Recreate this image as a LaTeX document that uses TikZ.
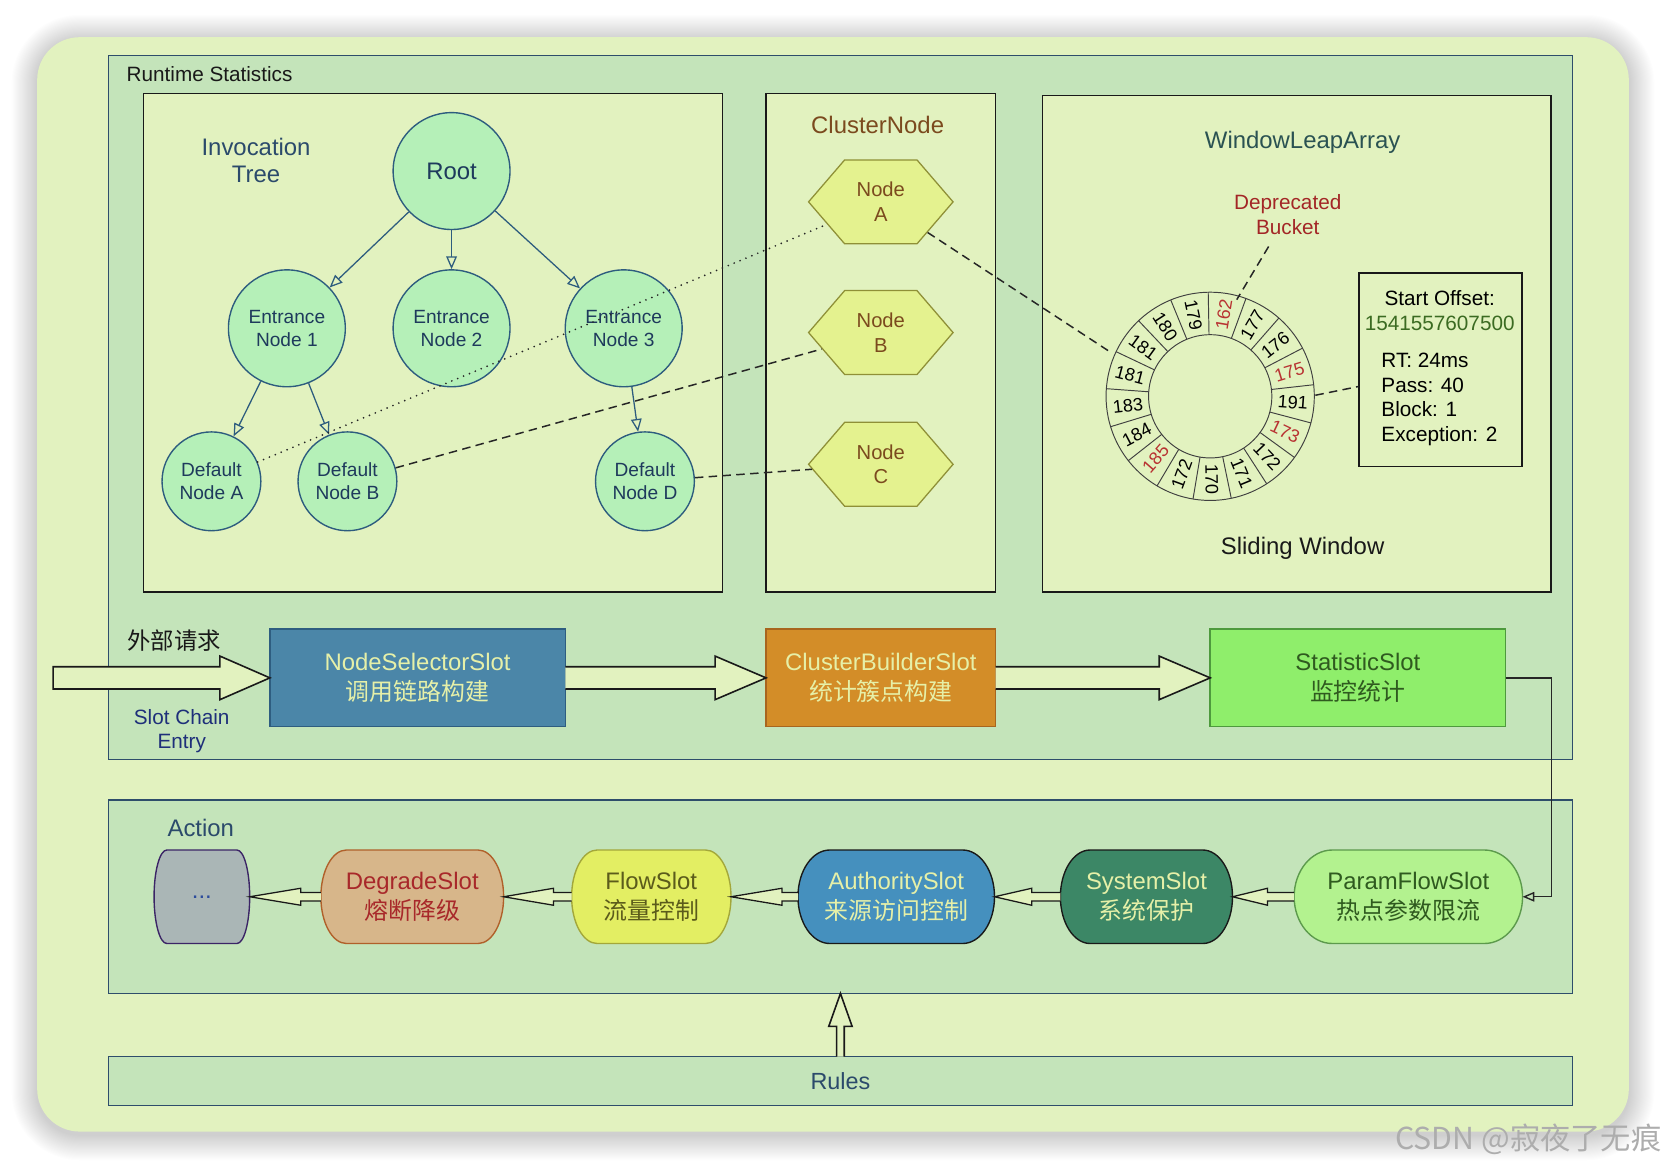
\documentclass[tikz,border=0pt]{standalone}
\usepackage{fontspec}
\setmainfont{Liberation Sans}
\newfontfamily\cjk{Noto Sans CJK SC}
\usetikzlibrary{arrows.meta,shapes.symbols,calc}
\definecolor{bgY}{HTML}{E2F2BF}
\definecolor{boxG}{HTML}{C4E4BA}
\definecolor{frameB}{HTML}{2E4D6B}
\definecolor{circF}{HTML}{B5F0B8}
\definecolor{circD}{HTML}{2D5C7E}
\definecolor{treeT}{HTML}{1E3A5C}
\definecolor{slateT}{HTML}{2B4A6B}
\definecolor{hexF}{HTML}{E4F28F}
\definecolor{hexD}{HTML}{8F9037}
\definecolor{brownT}{HTML}{7B4A1E}
\definecolor{redT}{HTML}{A32626}
\definecolor{ringRed}{HTML}{B83232}
\definecolor{greenT}{HTML}{3B6B22}
\definecolor{tealT}{HTML}{2A5252}
\definecolor{navyT}{HTML}{1E2F7A}
\definecolor{paleT}{HTML}{E6F0A8}
\definecolor{nssF}{HTML}{4B86A8}
\definecolor{nssD}{HTML}{2E5D80}
\definecolor{cbsF}{HTML}{D38D28}
\definecolor{cbsD}{HTML}{A8651E}
\definecolor{stsF}{HTML}{8FEE6B}
\definecolor{stsD}{HTML}{4E9A3D}
\definecolor{darkGT}{HTML}{2F5A1F}
\definecolor{dotsF}{HTML}{AAB6B6}
\definecolor{dotsD}{HTML}{3B2466}
\definecolor{dotsT}{HTML}{2C4C9C}
\definecolor{degF}{HTML}{D7B68A}
\definecolor{degD}{HTML}{B0602A}
\definecolor{degT}{HTML}{A8282A}
\definecolor{flowF}{HTML}{E3EE63}
\definecolor{flowD}{HTML}{A3A73A}
\definecolor{flowT}{HTML}{5B5B1B}
\definecolor{authF}{HTML}{4590BE}
\definecolor{sysF}{HTML}{3C8766}
\definecolor{pfF}{HTML}{B3F28F}
\definecolor{pfD}{HTML}{5C9A4C}
\newcommand{\slotfont}{\fontsize{22.5}{28.5}\selectfont}
\newcommand{\actslot}[8]{%
  \pgfmathsetmacro\slw{#3-#2}%
  \draw[fill=#5, draw=#6, line width=1.3pt] ({#2+#4},800) -- ({#3-#4},800)
     arc[start angle=90, end angle=-90, x radius=#4pt, y radius=44pt]
     -- ({#2+#4},888)
     arc[start angle=270, end angle=90, x radius=#4pt, y radius=44pt] -- cycle;
  \node[inner sep=0pt, outer sep=0pt, minimum width=\slw pt, minimum height=88pt,
        text=#7, align=center, font=\slotfont] (#1) at ({(#2+#3)/2},844) {#8};
}
\newcommand{\leftarr}[3]{%
  \draw[smallarr] ($(#1.west)+(0,-4)$) -- ($(#2.east)+(#3,-4)$) -- ($(#2.east)+(#3,-8)$)
    -- (#2.east) -- ($(#2.east)+(#3,8)$) -- ($(#2.east)+(#3,4)$) -- ($(#1.west)+(0,4)$);
}
\newcommand{\rightarr}[3]{%
  \draw[bigarr] ($(#1.east)+(0,-10.5)$) -- ($(#2.west)+(-#3,-10.5)$) -- ($(#2.west)+(-#3,-20.5)$)
    -- (#2.west) -- ($(#2.west)+(-#3,20.5)$) -- ($(#2.west)+(-#3,10.5)$) -- ($(#1.east)+(0,10.5)$);
}
\begin{document}
\begin{tikzpicture}[x=1pt,y=-1pt,
  tnode/.style={circle, draw=circD, fill=circF, line width=1.3pt, text=treeT, align=center, inner sep=0pt, font=\fontsize{18}{22}\selectfont},
  treearr/.style={draw=circD, line width=1.2pt, -{Triangle[open, length=12pt, width=10pt]}},
  hexn/.style={shape=signal, signal to=east and west, signal pointer angle=98.6, minimum width=136pt, minimum height=79pt, inner sep=0pt, draw=hexD, fill=hexF, line width=1.2pt, text=brownT, align=center, font=\fontsize{19}{23}\selectfont},
  dashln/.style={draw=black!85, line width=1.4pt, dash pattern=on 8pt off 5pt},
  dotln/.style={draw=black!85, line width=1.8pt, line cap=round, dash pattern=on 0pt off 6pt},
  ringline/.style={draw=black!75, line width=0.9pt},
  bigarr/.style={draw=black!90, fill=bgY, line width=1.5pt, line join=miter},
  smallarr/.style={draw=black!90, fill=bgY, line width=1.2pt, line join=miter},
  conn/.style={draw=black!85, line width=1.3pt, -{Triangle[open,length=11pt,width=9pt]}},
  slotbox/.style={rectangle, minimum height=92pt, line width=1.4pt, align=center, font=\slotfont, inner sep=0pt, outer sep=0pt},
  ttl/.style={inner sep=0pt, align=center, font=\fontsize{22.5}{26}\selectfont},
  sbtxt/.style={inner sep=0pt, font=\fontsize{19.5}{23}\selectfont},
  innerbox/.style={draw=black!90, fill=bgY, line width=1.5pt},
  areabox/.style={draw=frameB, fill=boxG, line width=1.2pt}
]
\useasboundingbox (0,0) rectangle (1568,1099);
\fill[white] (0,0) rectangle (1568,1099);
% shadow
\foreach \i in {1,...,24}{
  \pgfmathsetmacro\rc{40+\i}
  \fill[black, opacity=0.009, rounded corners=\rc pt] ({35-\i},{38-\i}) rectangle ({1533+\i},{1068+\i});
}
\fill[bgY, rounded corners=40pt] (35,35) rectangle (1533,1065);

% Runtime statistics area
\draw[areabox] (102,52) rectangle (1480,715);
\node[anchor=west, inner sep=0pt, font=\fontsize{19.5}{23}\selectfont, text=black!90] (rtlabel) at (119,70) {Runtime Statistics};

\draw[innerbox] (135,88) rectangle (680,557);
\draw[innerbox] (721,88) rectangle (937,557);
\draw[innerbox] (981,90) rectangle (1460,557);

% invocation tree
\node[ttl, text=slateT] (invt) at (241,151) {Invocation\\Tree};
\node[tnode, minimum size=110pt, font=\fontsize{22.5}{26}\selectfont] (root) at (425,161) {Root};
\node[tnode, minimum size=110pt] (e1) at (270,309) {Entrance\\Node 1};
\node[tnode, minimum size=110pt] (e2) at (425,309) {Entrance\\Node 2};
\node[tnode, minimum size=110pt] (e3) at (587,309) {Entrance\\Node 3};
\node[tnode, minimum size=93pt] (da) at (199,453) {Default\\Node A};
\node[tnode, minimum size=93pt] (db) at (327,453) {Default\\Node B};
\node[tnode, minimum size=93pt] (dd) at (607,453) {Default\\Node D};
\draw[treearr] (root) -- (e1);
\draw[treearr] (root) -- (e2);
\draw[treearr] (root) -- (e3);
\draw[treearr] (e1) -- (da);
\draw[treearr] (e1) -- (db);
\draw[treearr] (e3) -- (dd);

% cluster nodes
\node[ttl, text=brownT] (cnl) at (826,118) {ClusterNode};
\node[hexn] (na) at (829,190) {Node\\A};
\node[hexn] (nb) at (829,313) {Node\\B};
\node[hexn] (nc) at (829,437) {Node\\C};

% window leap array
\node[ttl, text=tealT] (wla) at (1226,134) {WindowLeapArray};
\node[ttl, text=black!90] (slw) at (1226,516) {Sliding Window};
\node[ttl, text=redT, font=\fontsize{19.5}{23}\selectfont] (dep) at (1212,202) {Deprecated\\Bucket};
\coordinate (ring) at (1139,373);
\draw[ringline] (ring) circle[radius=98pt];
\draw[ringline] (ring) circle[radius=58pt];
\foreach \j in {0,...,16}{
  \pgfmathsetmacro\pb{-(91.088-21.1765*\j)}
  \draw[ringline] ($(ring)+(\pb:58)$) -- ($(ring)+(\pb:98)$);
}
\foreach \k/\t/\c in {0/162/ringRed,1/177/black,2/176/black,3/175/ringRed,4/191/black,5/173/ringRed,6/172/black,7/171/black,8/170/black,9/172/black,10/185/ringRed,11/184/black,12/183/black,13/181/black,14/181/black,15/180/black,16/179/black}{
  \pgfmathsetmacro\ang{80.5-21.1765*\k}
  \pgfmathsetmacro\pa{-\ang}
  \pgfmathsetmacro\rot{cos(\ang)>0 ? \ang : \ang+180}
  \node[text=\c, rotate=\rot, font=\fontsize{17}{17}\selectfont, inner sep=0pt] at ($(ring)+(\pa:78)$) {\t};
}
\node[draw=black!90, line width=1.5pt, minimum width=153.5pt, minimum height=182pt, inner sep=0pt] (sbox) at (1355.9,348.2) {};
\node[sbtxt] (so) at (1355,281) {Start Offset:};
\node[sbtxt, text=greenT] (ts) at (1355,304) {1541557607500};
\node[sbtxt, anchor=west, align=left] (stats) at (1300,376) {RT: 24ms\\Pass: 40\\Block: 1\\Exception: 2};

% connectors
\coordinate (ringA) at (1046,332);
\coordinate (ringR) at (1238,372);
\coordinate (dep1) at (1194,232);
\coordinate (dep2) at (1164,282);
\draw[dotln] (da) -- (na);
\draw[dashln] (db) -- (nb);
\draw[dashln] (dd) -- (nc);
\draw[dashln] (na) -- (ringA);
\draw[dashln] (dep1) -- (dep2);
\draw[dashln] (ringR) -- (sbox);

% slot chain
\node[inner sep=0pt, font=\cjk\fontsize{22}{26}\selectfont, text=black!90] (ext) at (164,603) {外部请求};
\node[inner sep=0pt, align=center, font=\fontsize{19.5}{22}\selectfont, text=navyT] (sce) at (171,688) {Slot Chain\\Entry};
\node[slotbox, fill=nssF, draw=nssD, text=paleT, minimum width=278pt] (nss) at (393,638) {NodeSelectorSlot\\{\cjk 调用链路构建}};
\node[slotbox, fill=cbsF, draw=cbsD, text=paleT, minimum width=216pt] (cbs) at (829,638) {ClusterBuilderSlot\\{\cjk 统计簇点构建}};
\node[slotbox, fill=stsF, draw=stsD, text=darkGT, minimum width=278pt] (sts) at (1278,638) {StatisticSlot\\{\cjk 监控统计}};
\coordinate (entry) at (50,638);
\draw[bigarr] ($(entry)+(0,-10.5)$) -- ($(nss.west)+(-47,-10.5)$) -- ($(nss.west)+(-47,-20.5)$)
    -- (nss.west) -- ($(nss.west)+(-47,20.5)$) -- ($(nss.west)+(-47,10.5)$) -- ($(entry)+(0,10.5)$) -- cycle;
\rightarr{nss}{cbs}{48}
\rightarr{cbs}{sts}{48}

% action area
\node[areabox, minimum width=1378pt, minimum height=182pt, inner sep=0pt, outer sep=0pt] (actbox) at (791,844) {};
\node[ttl, text=slateT] (actl) at (189,779) {Action};
\actslot{dots}{145}{235}{12}{dotsF}{dotsD}{dotsT}{...}
\actslot{deg}{302}{474}{24}{degF}{degD}{degT}{DegradeSlot\\{\cjk 熔断降级}}
\actslot{flow}{538}{688}{24}{flowF}{flowD}{flowT}{FlowSlot\\{\cjk 流量控制}}
\actslot{auth}{751}{936}{30}{authF}{black!90}{paleT}{AuthoritySlot\\{\cjk 来源访问控制}}
\actslot{sys}{998}{1160}{28}{sysF}{black!90}{paleT}{SystemSlot\\{\cjk 系统保护}}
\actslot{pfs}{1218}{1433}{36}{pfF}{pfD}{darkGT}{ParamFlowSlot\\{\cjk 热点参数限流}}
\leftarr{deg}{dots}{48}
\leftarr{flow}{deg}{47}
\leftarr{auth}{flow}{48}
\leftarr{sys}{auth}{35}
\leftarr{pfs}{sys}{33}
\coordinate (bend) at (1460,638);
\draw[conn] (sts.east) -- (bend) |- (pfs.east);

% rules
\node[areabox, minimum width=1378pt, minimum height=46pt, inner sep=0pt, outer sep=0pt, text=slateT, font=\fontsize{22}{26}\selectfont] (rules) at (791,1017.5) {Rules};
\draw[bigarr] ($(rules.north)+(-3.6,0)$) -- ($(actbox.south)+(-3.6,31)$) -- ($(actbox.south)+(-11,31)$)
   -- (actbox.south) -- ($(actbox.south)+(11,31)$) -- ($(actbox.south)+(3.6,31)$) -- ($(rules.north)+(3.6,0)$);

% watermark
\node[anchor=east, inner sep=0pt, text=black!32, font=\cjk\fontsize{28.5}{30}\selectfont] (wm) at (1564,1072) {CSDN @寂夜了无痕};
\end{tikzpicture}
\end{document}
